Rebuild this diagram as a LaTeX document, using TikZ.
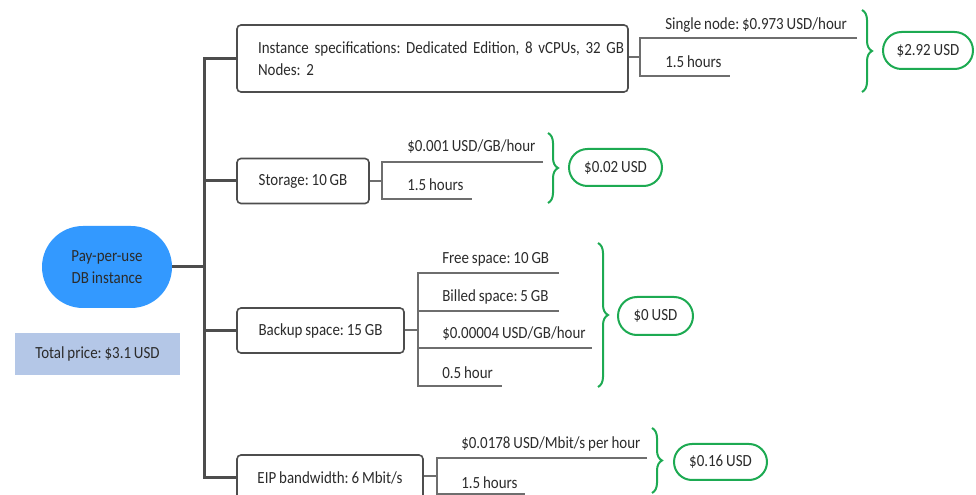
\documentclass[tikz,border=0pt]{standalone}
\usepackage{fontspec}
\setmainfont{Carlito}[FakeStretch=0.88,WordSpace=0.85]
\usetikzlibrary{shapes.misc,decorations.pathreplacing}
\definecolor{txt}{HTML}{2B2B2B}
\definecolor{dk}{HTML}{4D4D4D}
\definecolor{ln}{HTML}{6E6E6E}
\definecolor{grn}{HTML}{1DAA52}
\definecolor{blu}{HTML}{3399FF}
\definecolor{tot}{HTML}{B4C7E7}
\begin{document}
\frenchspacing
\begin{tikzpicture}[x=0.75pt,y=-0.75pt,
 every node/.style={font=\fontsize{12.75}{16.5}\selectfont, text=txt},
 box/.style={draw=dk, line width=1.2pt, rounded corners=3pt, fill=white, minimum height=33.75pt, inner sep=0pt},
 trunk/.style={draw=dk, line width=2.25pt},
 br/.style={draw=ln, line width=0.8pt},
 lab/.style={anchor=west, inner sep=0pt},
 price/.style={rounded rectangle, draw=grn, line width=1.5pt, fill=white, minimum height=27.75pt, inner sep=0pt},
 brc/.style={draw=grn, line width=1.5pt, decorate, decoration={brace, amplitude=7.5pt}}
]
\useasboundingbox (0,0) rectangle (976,495);

% root
\node[rounded rectangle, fill=blu, minimum width=97.5pt, minimum height=61.5pt, inner sep=0pt, align=center] (root) at (107,267) {Pay-per-use\\DB instance};
\node[fill=tot, minimum width=123.75pt, minimum height=31.5pt, inner sep=0pt] (total) at (97.5,354) {Total price: \$3.1 USD};

% category boxes
\node[box, minimum width=293.25pt, minimum height=50.25pt, text width=261.75pt, align=left] (inst) at (432.5,58.5) {\mbox{Instance specifications: Dedicated Edition, 8 vCPUs, 32 GB}\\\mbox{Nodes: 2}};
\node[box, minimum width=99pt] (stor) at (303,181) {Storage: 10 GB};
\node[box, minimum width=125.25pt] (back) at (320.5,330.5) {Backup space: 15 GB};
\node[box, minimum width=139.5pt] (eip) at (330,477.5) {EIP bandwidth: 6 Mbit/s};

% trunk
\coordinate (tj) at (204,267);
\draw[trunk] (root.east) -- (tj);
\draw[trunk] (inst.west) -- (inst.west -| tj) -- (eip.west -| tj) -- (eip.west);
\draw[trunk] (stor.west) -- (stor.west -| tj);
\draw[trunk] (back.west) -- (back.west -| tj);

% instance branch
\coordinate (s1) at (640,57);
\node[lab] (i1) at (665,25) {Single node: \$0.973 USD/hour};
\node[lab] (i2) at (665,62) {1.5 hours};
\draw[br] (inst.east |- s1) -- (s1);
\draw[br] (857,38) -- (640,38) -- (640,76) -- (730,76);
\draw[brc] (862,10) -- (862,92);
\node[price, minimum width=67.5pt] (p1) at (928,50.5) {\$2.92 USD};

% storage branch
\coordinate (s2) at (382,181);
\node[lab] (st1) at (407,147) {\$0.001 USD/GB/hour};
\node[lab] (st2) at (407,185) {1.5 hours};
\draw[br] (stor.east) -- (s2);
\draw[br] (543,162) -- (382,162) -- (382,199) -- (472,199);
\draw[brc] (548,133) -- (548,203);
\node[price, minimum width=69.75pt] (p2) at (615.5,167.5) {\$0.02 USD};

% backup branch
\coordinate (s3) at (418,330);
\node[lab] (b1) at (442,259) {Free space: 10 GB};
\node[lab] (b2) at (442,297) {Billed space: 5 GB};
\node[lab] (b3) at (442,334) {\$0.00004 USD/GB/hour};
\node[lab] (b4) at (442,373) {0.5 hour};
\draw[br] (back.east |- s3) -- (s3);
\draw[br] (559,273) -- (418,273) -- (418,386) -- (502,386);
\draw[br] (418,311) -- (559,311);
\draw[br] (418,348) -- (592,348);
\draw[brc] (598,243) -- (598,387);
\node[price, minimum width=56.25pt, minimum height=28.5pt] (p3) at (655.5,316) {\$0 USD};

% EIP branch
\coordinate (s4) at (437,476);
\node[lab] (e1) at (461,444) {\$0.0178 USD/Mbit/s per hour};
\node[lab] (e2) at (461,483) {1.5 hours};
\draw[br] (eip.east |- s4) -- (s4);
\draw[br] (647,458) -- (437,458) -- (437,494) -- (525,494);
\draw[brc] (652,428) -- (652,493);
\node[price, minimum width=69.75pt, minimum height=27pt] (p4) at (720.5,462) {\$0.16 USD};
\end{tikzpicture}
\end{document}
